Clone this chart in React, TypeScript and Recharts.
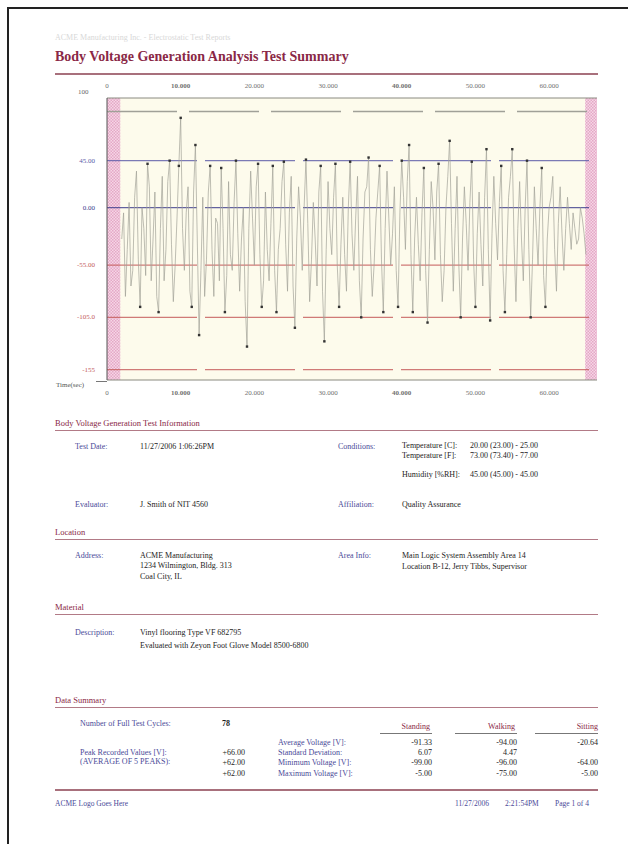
import React from "react"
import {
  ComposedChart,
  Line,
  XAxis,
  YAxis,
  ReferenceLine,
  ReferenceArea,
} from "recharts"

// body voltage trace, one sample every 0.25 s starting at 2 s
const sampleStart = 2
const sampleStep = 0.25
const volts = [
  -30, -5, -85, -40, 5, -75, -60, 10, 35, -50, -95, 0, -20, -65, 42, 20, -70, -30, 15, -85,
  -100, -20, 30, -70, -40, 25, 45, -35, -90, -55, -10, 40, 86, -20, -60, -5, 20, -80, -95, 15,
  60, -30, -122, -60, 10, -85, -50, 15, 40, -40, -85, -10, -15, -70, 38, -20, -100, -65, 25, -45,
  -60, 5, 45, -25, -80, -30, 0, -90, -133, -20, 35, -10, -55, 20, 42, -45, -95, -70, 15, -40,
  -70, -15, 40, -60, -100, -40, -20, 25, 44, -35, -80, -5, 30, -75, -115, -30, 20, -10, -60, 0,
  46, -15, -90, -50, 5, -30, -75, 15, 40, -80, -128, -40, 25, -20, -45, 10, 42, -55, -95, -35,
  10, -45, -80, 0, 44, -25, -60, -10, 30, -70, -105, -30, 15, 20, 48, -40, -85, -55, -10, 15,
  40, -50, -100, -20, 35, -10, -55, -25, 20, -60, -95, -5, 45, 10, -40, 25, 60, -45, -100, -30,
  10, -35, -70, -5, 38, -60, -110, -40, 25, 0, -50, 15, 42, -45, -90, -60, 0, 30, 64, -15,
  -80, -20, 30, -55, -105, -30, 20, -15, -60, 5, 44, -50, -95, -25, 15, -35, -75, 10, 56, -40,
  -108, -25, 30, -15, -50, 5, 40, -60, -100, -45, 10, 30, 56, -35, -90, -20, 25, -30, -70, 0,
  45, -40, -105, -50, 20, -20, -55, 0, 38, -65, -95, -30, 0, 10, 30, -40, -80, -15, 20, -25,
  -60, -20, 10, -15, -40, -5, -20, -35, -30, 0, -10, -25, -45,
]

const timeTicks = [0, 10, 20, 30, 40, 50, 60]
const timeLabels = ["0", "10.000", "20.000", "30.000", "40.000", "50.000", "60.000"]
const limitValues = [45, 0, -55, -105, -155]
const limitLabels = ["45.00", "0.00", "-55.00", "-105.0", "-155"]
const limitColors = ["#5a5aa8", "#3c3c8c", "#c45a5a", "#c45a5a", "#c45a5a"]
const peakLine = 92
const settleBands = [
  [0, 1.8],
  [64.9, 66.5],
]

const data = volts.map((v, i) => ({ t: sampleStart + i * sampleStep, v }))

const maroon = "#8a2846"
const rule = "#b27a86"
const blue = "#4a4a98"
const ink = "#1c1c1c"

function T({
  x,
  y,
  children,
  color = ink,
  size = 8,
  bold = false,
  align = "left",
  w,
}: {
  x: number
  y: number
  children: React.ReactNode
  color?: string
  size?: number
  bold?: boolean
  align?: "left" | "right" | "center"
  w?: number
}) {
  return (
    <div
      style={{
        position: "absolute",
        left: x,
        top: y - size * 0.62,
        width: w,
        textAlign: align,
        fontSize: size,
        lineHeight: `${size * 1.2}px`,
        color,
        fontWeight: bold ? 700 : 400,
        whiteSpace: "nowrap",
      }}
    >
      {children}
    </div>
  )
}

function Rule({ x, y, w, h = 1, color = rule }: { x: number; y: number; w: number; h?: number; color?: string }) {
  return <div style={{ position: "absolute", left: x, top: y, width: w, height: h, background: color }} />
}

function Section({ y, title }: { y: number; title: string }) {
  return (
    <>
      <T x={55} y={y} color={maroon} size={8.5}>
        {title}
      </T>
      <Rule x={55} y={y + 7} w={543} />
    </>
  )
}

function LimitTick(props: any) {
  const { x, y, payload } = props
  const i = limitValues.indexOf(payload.value)
  return (
    <text x={x - 4} y={y + 2} textAnchor="end" fontSize={7} fill={limitColors[i]}>
      {limitLabels[i]}
    </text>
  )
}

function TimeTick(props: any) {
  const { x, y, payload } = props
  const i = timeTicks.indexOf(payload.value)
  return (
    <text x={x} y={y} dy={props.orientation === "top" ? -2 : 7} textAnchor="middle" fontSize={7} fill="#707070" fontWeight={i % 3 === 1 ? 700 : 400}>
      {timeLabels[i]}
    </text>
  )
}

function PeakDot(props: any) {
  const { cx, cy, payload, index } = props
  if (payload.v < 38 && payload.v > -95) return <g key={index} />
  return <rect key={index} x={cx - 1.2} y={cy - 1.2} width={2.4} height={2.4} fill="#333" />
}

export default function App() {
  return (
    <div
      style={{
        position: "absolute",
        left: 0,
        top: 0,
        width: 628,
        height: 844,
        background: "#fff",
        fontFamily: '"Liberation Serif", "Times New Roman", serif',
        overflow: "hidden",
      }}
    >
      <div style={{ position: "absolute", left: 7, top: 7, width: 640, height: 860, borderTop: "2px solid #222", borderLeft: "2px solid #222" }} />

      <T x={55} y={38} color="#d8d8d8" size={8}>
        ACME Manufacturing Inc. - Electrostatic Test Reports
      </T>
      <T x={55} y={58} color={maroon} size={14} bold>
        Body Voltage Generation Analysis Test Summary
      </T>
      <Rule x={55} y={73} w={543} h={2} color="#a8707c" />

      <div style={{ position: "absolute", left: 107, top: 98, width: 490, height: 282, background: "#fdfbec" }} />
      <div style={{ position: "absolute", left: 40, top: 80 }}>
        <ComposedChart width={570} height={320} data={data} margin={{ top: 4, right: 13, left: 17, bottom: 6 }}>
          <defs>
            <pattern id="hatch" width="3" height="3" patternUnits="userSpaceOnUse">
              <rect width="3" height="3" fill="#f6d6e6" />
              <rect width="1.5" height="1.5" fill="#e4a8c6" />
              <rect x="1.5" y="1.5" width="1.5" height="1.5" fill="#e4a8c6" />
            </pattern>
          </defs>
          <XAxis
            xAxisId="bottom"
            dataKey="t"
            type="number"
            domain={[0, 66.5]}
            ticks={timeTicks}
            tick={<TimeTick orientation="bottom" />}
            height={14}
            stroke="#8a8a80"
            tickLine={false}
          />
          <XAxis
            xAxisId="top"
            orientation="top"
            dataKey="t"
            type="number"
            domain={[0, 66.5]}
            ticks={timeTicks}
            tick={<TimeTick orientation="top" />}
            height={14}
            stroke="#8a8a80"
            tickLine={false}
          />
          <YAxis
            type="number"
            domain={[-165, 105]}
            ticks={limitValues}
            tick={<LimitTick />}
            width={50}
            stroke="#555"
            tickLine={false}
            interval={0}
          />
          {settleBands.map(([a, b], i) => (
            <ReferenceArea key={i} xAxisId="bottom" x1={a} x2={b} fill="url(#hatch)" fillOpacity={1} stroke="none" ifOverflow="visible" />
          ))}
          <ReferenceLine xAxisId="bottom" y={peakLine} stroke="#a0a098" strokeWidth={1.5} strokeDasharray="70 12" />
          {limitValues.map((v, i) => (
            <ReferenceLine key={v} xAxisId="bottom" y={v} stroke={limitColors[i]} strokeWidth={1.2} strokeOpacity={0.8} strokeDasharray="90 8" />
          ))}
          <Line
            xAxisId="bottom"
            type="linear"
            dataKey="v"
            stroke="#a2a298"
            strokeWidth={0.7}
            dot={<PeakDot />}
            activeDot={false}
            isAnimationActive={false}
          />
          <Line xAxisId="top" dataKey="v" stroke="none" dot={false} activeDot={false} isAnimationActive={false} legendType="none" />
        </ComposedChart>
      </div>
      <T x={78} y={92} color="#666" size={7}>
        100
      </T>
      <T x={56} y={385} color="#555" size={7}>
        Time(sec)
      </T>
      <div style={{ position: "absolute", left: 96, top: 381, width: 11, height: 1, background: "#777" }} />

      <Section y={423} title="Body Voltage Generation Test Information" />
      <T x={75} y={447} color={blue}>Test Date:</T>
      <T x={140} y={447}>11/27/2006 1:06:26PM</T>
      <T x={338} y={447} color={blue}>Conditions:</T>
      <T x={402} y={446}>Temperature [C]:</T>
      <T x={470} y={446}>20.00 (23.00) - 25.00</T>
      <T x={402} y={456}>Temperature [F]:</T>
      <T x={470} y={456}>73.00 (73.40) - 77.00</T>
      <T x={402} y={475}>Humidity [%RH]:</T>
      <T x={470} y={475}>45.00 (45.00) - 45.00</T>
      <T x={75} y={505} color={blue}>Evaluator:</T>
      <T x={140} y={505}>J. Smith of NIT 4560</T>
      <T x={338} y={505} color={blue}>Affiliation:</T>
      <T x={402} y={505}>Quality Assurance</T>

      <Section y={532} title="Location" />
      <T x={75} y={556} color={blue}>Address:</T>
      <T x={140} y={556}>ACME Manufacturing</T>
      <T x={140} y={566}>1234 Wilmington, Bldg. 313</T>
      <T x={140} y={577}>Coal City, IL</T>
      <T x={338} y={556} color={blue}>Area Info:</T>
      <T x={402} y={556}>Main Logic System Assembly Area 14</T>
      <T x={402} y={567}>Location B-12, Jerry Tibbs, Supervisor</T>

      <Section y={607} title="Material" />
      <T x={75} y={633} color={blue}>Description:</T>
      <T x={140} y={633}>Vinyl flooring Type VF 682795</T>
      <T x={140} y={646}>Evaluated with Zeyon Foot Glove Model 8500-6800</T>

      <Section y={700} title="Data Summary" />
      <T x={80} y={724} color={blue}>Number of Full Test Cycles:</T>
      <T x={222} y={724} bold>78</T>
      <T x={370} y={727} color={maroon} w={60} align="right">Standing</T>
      <T x={455} y={727} color={maroon} w={60} align="right">Walking</T>
      <T x={535} y={727} color={maroon} w={63} align="right">Sitting</T>
      <Rule x={380} y={733} w={52} color="#777" />
      <Rule x={455} y={733} w={62} color="#777" />
      <Rule x={535} y={733} w={63} color="#777" />
      <T x={278} y={743} color={blue}>Average Voltage [V]:</T>
      <T x={278} y={753} color={blue}>Standard Deviation:</T>
      <T x={278} y={763} color={blue}>Minimum Voltage [V]:</T>
      <T x={278} y={774} color={blue}>Maximum Voltage [V]:</T>
      <T x={80} y={753} color={blue}>Peak Recorded Values [V]:</T>
      <T x={80} y={762} color={blue}>(AVERAGE OF 5 PEAKS):</T>
      <T x={205} y={753} w={40} align="right">+66.00</T>
      <T x={205} y={763} w={40} align="right">+62.00</T>
      <T x={205} y={774} w={40} align="right">+62.00</T>
      <T x={380} y={743} w={52} align="right">-91.33</T>
      <T x={380} y={753} w={52} align="right">6.07</T>
      <T x={380} y={763} w={52} align="right">-99.00</T>
      <T x={380} y={774} w={52} align="right">-5.00</T>
      <T x={455} y={743} w={62} align="right">-94.00</T>
      <T x={455} y={753} w={62} align="right">4.47</T>
      <T x={455} y={763} w={62} align="right">-96.00</T>
      <T x={455} y={774} w={62} align="right">-75.00</T>
      <T x={535} y={743} w={63} align="right">-20.64</T>
      <T x={535} y={763} w={63} align="right">-64.00</T>
      <T x={535} y={774} w={63} align="right">-5.00</T>

      <Rule x={55} y={789} w={543} h={2} color="#a8707c" />
      <T x={55} y={804} color={blue} size={7.5}>ACME Logo Goes Here</T>
      <T x={455} y={804} color={blue} size={7.5}>11/27/2006</T>
      <T x={505} y={804} color={blue} size={7.5}>2:21:54PM</T>
      <T x={555} y={804} color={blue} size={7.5}>Page 1 of 4</T>
    </div>
  )
}
